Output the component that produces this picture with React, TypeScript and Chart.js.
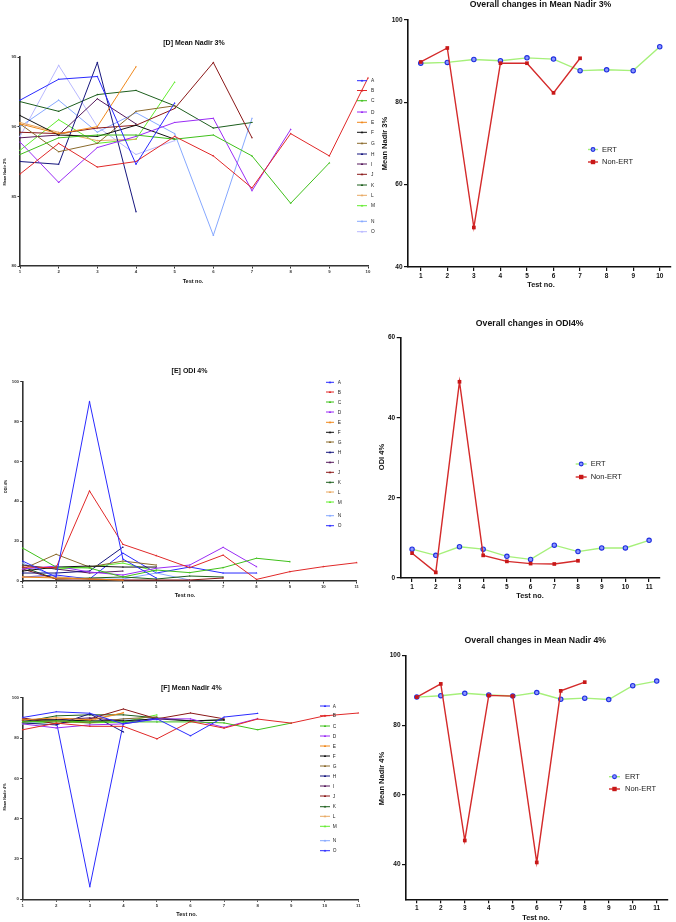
import React, { useEffect, useRef } from 'react';
import { Chart, registerables } from 'chart.js';
Chart.register(...registerables);

const PAGE_W = 676;
const PAGE_H = 922;
const FONT = '"Liberation Sans", Arial, Helvetica, sans-serif';

const patientIds = ['A', 'B', 'C', 'D', 'E', 'F', 'G', 'H', 'I', 'J', 'K', 'L', 'M', 'N', 'O'];
const testNos10 = [1, 2, 3, 4, 5, 6, 7, 8, 9, 10];
const testNos11 = [1, 2, 3, 4, 5, 6, 7, 8, 9, 10, 11];

const nadir3Ticks = [80, 85, 90, 95];
const overallNadir3Ticks = [40, 60, 80, 100];
const odi4Ticks = [0, 20, 40, 60, 80, 100];
const overallOdi4Ticks = [0, 20, 40, 60];
const nadir4Ticks = [0, 20, 40, 60, 80, 100];
const overallNadir4Ticks = [40, 60, 80, 100];

// [D] Mean Nadir 3% per patient
const n3A = [91.9, 93.4, 93.6, 87.3, 91.7];
const n3B = [86.6, 88.8, 87.1, 87.5, 89.3, 87.9, 85.6, 89.5, 87.9, 93.5];
const n3C = [88.0, 89.2, 89.4, 89.4, 89.1, 89.4, 87.9, 84.5, 87.4];
const n3D = [88.9, 86.0, 88.5, 89.3, 90.3, 90.6, 85.4, 89.8];
const n3E = [90.2, 89.5, 90.0, 94.3];
const n3F = [90.8, 89.4, 89.3, 90.1, 89.1];
const n3G = [90.2, 88.2, 88.8, 91.1, 91.5];
const n3H = [87.5, 87.3, 94.6, 83.9];
const n3I = [89.2, 89.4, 92.0, 90.2];
const n3J = [89.6, 89.5, 89.9, 90.1, 91.3, 94.6, 89.2];
const n3K = [91.8, 91.1, 92.3, 92.6, 91.5, 89.9, 90.3];
const n3L = [90.3, 89.6, 89.0, 89.1];
const n3M = [88.3, 90.5, 88.8, 89.1, 93.2];
const n3N = [90.0, 91.9, 89.6, 91.0, 89.5, 82.2, 90.6];
const n3O = [89.3, 94.4, 90.0, 88.0, 89.0];

// [E] ODI 4% per patient
const o4A = [10, 2, 90, 11, 1.5];
const o4B = [7, 6.7, 45.2, 18.4, 12.7, 6.7, 13, 0.8, 4.7, 7.2, 9.2];
const o4C = [16.5, 7, 6.5, 2, 5.5, 4.2, 6.7, 11.4, 9.7];
const o4D = [6, 7.5, 4.5, 3, 6.4, 8, 16.9, 7.2];
const o4E = [2, 1.5, 1, 0.5];
const o4F = [5, 7, 7.5, 7, 7];
const o4G = [6, 13.4, 7, 10, 8];
const o4H = [4, 4, 5, 17];
const o4I = [8, 6, 4, 5];
const o4J = [6, 1, 1, 0.5, 0.5, 0.5, 1.5];
const o4K = [7, 1, 1.5, 2, 1, 2.5, 2];
const o4L = [2, 2, 1, 0.5];
const o4M = [8, 6, 7, 9, 5];
const o4N = [9, 2, 1, 1, 4, 0.5];
const o4O = [2, 3, 1, 14, 4, 7, 4, 4];

// [F] Mean Nadir 4% per patient
const n4A = [90.2, 93.0, 92.3, 87.0, 89.5, 81.1, 90.4, 92.2];
const n4B = [84.1, 87.4, 85.8, 85.8, 79.6, 88.2, 84.9, 89.4, 87.4, 91.0, 92.4];
const n4C = [88.0, 88.5, 88.0, 88.0, 88.0, 88.0, 87.5, 84.1, 87.4];
const n4D = [87.0, 85.0, 86.5, 87.0, 89.5, 89.5, 85.3, 89.6];
const n4E = [89.0, 90.0, 89.0, 92.5];
const n4F = [89.0, 89.0, 88.5, 88.5, 89.5, 88.5, 89.0];
const n4G = [88.0, 88.5, 87.5, 89.5, 90.5];
const n4H = [87.5, 86.5, 92.0, 83.0];
const n4I = [89.0, 89.0, 90.0, 88.5];
const n4J = [90.0, 87.0, 89.5, 94.4, 89.5, 92.4, 89.5];
const n4K = [88.0, 91.0, 91.5, 91.5, 90.0, 88.5, 89.0];
const n4L = [89.5, 88.0, 88.5, 92.5];
const n4M = [87.0, 88.0, 87.5, 88.0, 91.5];
const n4N = [88.0, 87.5, 88.0, 89.5, 89.0];
const n4O = [89.5, 88.5, 6.3, 87.5, 90.0];

// Overall group means
const ertNadir3 = [89.5, 89.7, 90.4, 90.1, 90.8, 90.5, 87.7, 87.9, 87.7, 93.5];
const nonErtNadir3 = [89.8, 93.2, 49.6, 89.5, 89.5, 82.3, 90.7];
const ertOdi4 = [7.2, 5.65, 7.8, 7.2, 5.4, 4.65, 8.2, 6.6, 7.5, 7.5, 9.4];
const nonErtOdi4 = [6.2, 1.4, 49, 5.65, 4.15, 3.6, 3.5, 4.3];
const ertNadir4 = [88.1, 88.5, 89.2, 88.7, 88.4, 89.4, 87.5, 87.8, 87.4, 91.4, 92.7];
const nonErtNadir4 = [88.1, 91.9, 46.9, 88.6, 88.4, 40.6, 89.9, 92.4];

const nadir3Series = [n3A, n3B, n3C, n3D, n3E, n3F, n3G, n3H, n3I, n3J, n3K, n3L, n3M, n3N, n3O];
const odi4Series = [o4A, o4B, o4C, o4D, o4E, o4F, o4G, o4H, o4I, o4J, o4K, o4L, o4M, o4N, o4O];
const nadir4Series = [n4A, n4B, n4C, n4D, n4E, n4F, n4G, n4H, n4I, n4J, n4K, n4L, n4M, n4N, n4O];

const baseColors = ['#2a2aff', '#e02828', '#3fc01a', '#9a2cf5', '#f0881c', '#111111', '#8a6a2c', '#16167e', '#561a5c', '#8a1818', '#1d5e1d', '#e8a862', '#62ec2e', '#86a8ff'];
const colorsD = [...baseColors, '#b8b8ff'];
const colorsEF = [...baseColors, '#2a2aff'];

const ERT_LINE = '#a6f07a';
const ERT_PT_BORDER = '#1f2fe0';
const ERT_PT_FILL = '#8c96ff';
const NON_ERT = '#d42a2a';

const legendYD = [80.7, 90.5, 100.7, 112, 122.3, 132.3, 143.3, 154, 164, 174.3, 185, 195.3, 205.7, 221.3, 231.7];
const legendYE = [382.3, 392, 402, 412, 422.3, 432.3, 442, 452.3, 462.3, 472.3, 482.3, 492, 502, 515.7, 525.7];
const legendYF = [706, 715.7, 726, 736, 746, 756, 766, 776, 786, 796, 806.7, 816.3, 826.3, 840.7, 850.7];

const overlayPlugin = {
  id: 'overlay',
  afterDraw(chart: any, _args: any, opts: any) {
    const ctx = chart.ctx as CanvasRenderingContext2D;
    ctx.save();
    for (const l of opts.legend || []) {
      ctx.strokeStyle = l.color;
      ctx.lineWidth = l.lw;
      ctx.beginPath();
      ctx.moveTo(l.x1, l.y);
      ctx.lineTo(l.x2, l.y);
      ctx.stroke();
      const cx = (l.x1 + l.x2) / 2;
      const r = l.mSize;
      if (l.marker === 'circle') {
        ctx.beginPath();
        ctx.arc(cx, l.y, r, 0, Math.PI * 2);
        ctx.fillStyle = l.mFill;
        ctx.fill();
        ctx.lineWidth = 1.1;
        ctx.strokeStyle = l.mColor;
        ctx.stroke();
      } else if (l.marker === 'rect') {
        ctx.fillStyle = l.mColor;
        ctx.fillRect(cx - r, l.y - r, 2 * r, 2 * r);
      } else if (l.marker === 'tri') {
        ctx.fillStyle = l.mColor;
        ctx.beginPath();
        ctx.moveTo(cx, l.y - r);
        ctx.lineTo(cx + r, l.y + r * 0.7);
        ctx.lineTo(cx - r, l.y + r * 0.7);
        ctx.closePath();
        ctx.fill();
      }
      ctx.fillStyle = l.textColor || '#222';
      ctx.font = `${l.size}px ${FONT}`;
      ctx.textAlign = 'left';
      ctx.textBaseline = 'middle';
      ctx.fillText(l.label, l.tx, l.y + 0.3);
    }
    for (const t of opts.texts || []) {
      ctx.save();
      ctx.fillStyle = t.color || '#111';
      ctx.font = `${t.bold ? 'bold ' : ''}${t.size}px ${FONT}`;
      ctx.textAlign = 'center';
      ctx.textBaseline = 'middle';
      ctx.translate(t.x, t.y);
      if (t.rotate) ctx.rotate(-Math.PI / 2);
      ctx.fillText(t.text, 0, 0);
      ctx.restore();
    }
    ctx.restore();
  },
};

type Area = { l: number; t: number; r: number; b: number };

function axisOpts(kind: 'x' | 'y', min: number, max: number, ticks: number[], size: number, small: boolean, fixed: number) {
  const color = small ? '#333' : '#111';
  return {
    type: 'linear',
    min,
    max,
    afterBuildTicks: (s: any) => {
      s.ticks = ticks.map((v) => ({ value: v }));
    },
    afterFit: (s: any) => {
      if (kind === 'x') s.height = fixed;
      else s.width = fixed;
    },
    ticks: {
      autoSkip: false,
      maxRotation: 0,
      font: { family: FONT, size, weight: 'bold' },
      color,
      padding: small ? 1.2 : 1.5,
      callback: (v: any) => String(v),
    },
    grid: {
      display: true,
      drawOnChartArea: false,
      drawTicks: true,
      tickLength: small ? 2.5 : 4,
      color,
      lineWidth: small ? 1 : 1.2,
    },
    border: { display: true, color, width: small ? 1.6 : 1.6 },
  };
}

function buildConfig(spec: any) {
  const a: Area = spec.area;
  const yw = spec.yw;
  const xh = spec.xh;
  return {
    type: 'line',
    data: { datasets: spec.datasets },
    options: {
      responsive: false,
      animation: false,
      devicePixelRatio: 1,
      events: [],
      layout: {
        padding: { left: a.l - yw, top: a.t, right: PAGE_W - a.r, bottom: PAGE_H - a.b - xh },
      },
      plugins: {
        legend: { display: false },
        tooltip: { enabled: false },
        title: { display: false },
        overlay: { texts: spec.texts, legend: spec.legend },
      },
      scales: {
        x: axisOpts('x', spec.xMin, spec.xMax, spec.xTicks, spec.tickSize, spec.small, xh),
        y: axisOpts('y', spec.yMin, spec.yMax, spec.yTicks, spec.tickSize, spec.small, yw),
      },
    },
    plugins: [overlayPlugin],
  };
}

function toPoints(arr: number[]) {
  return arr.map((y, i) => ({ x: i + 1, y }));
}

function patientDatasets(series: number[][], colors: string[]) {
  return series.map((s, i) => ({
    label: patientIds[i],
    data: toPoints(s),
    borderColor: colors[i],
    backgroundColor: colors[i],
    borderWidth: 1,
    pointRadius: 1.1,
    pointStyle: 'triangle',
    pointBorderWidth: 0,
    pointBackgroundColor: colors[i],
    tension: 0,
    fill: false,
    clip: false,
  }));
}

function patientLegend(colors: string[], ys: number[], x1: number, x2: number, tx: number) {
  return patientIds.map((id, i) => ({
    label: id,
    color: colors[i],
    x1,
    x2,
    tx,
    y: ys[i],
    size: 4.8,
    marker: 'tri',
    mColor: colors[i],
    mSize: 1.3,
    lw: 1,
  }));
}

function groupDatasets(ert: number[], nonErt: number[]) {
  return [
    {
      label: 'ERT',
      data: toPoints(ert),
      borderColor: ERT_LINE,
      backgroundColor: ERT_PT_FILL,
      borderWidth: 1.4,
      pointRadius: 2.2,
      pointStyle: 'circle',
      pointBorderWidth: 1.1,
      pointBorderColor: ERT_PT_BORDER,
      pointBackgroundColor: ERT_PT_FILL,
      tension: 0,
      order: 1,
      clip: false,
    },
    {
      label: 'Non-ERT',
      data: toPoints(nonErt),
      borderColor: NON_ERT,
      backgroundColor: NON_ERT,
      borderWidth: 1.4,
      pointRadius: 2.6,
      pointStyle: 'rect',
      pointBorderWidth: 0,
      pointBackgroundColor: '#c81818',
      tension: 0,
      order: 0,
      clip: false,
    },
  ];
}

function groupLegend(x1: number, x2: number, tx: number, y1: number, y2: number) {
  return [
    { label: 'ERT', color: ERT_LINE, x1, x2, tx, y: y1, size: 7.5, marker: 'circle', mColor: ERT_PT_BORDER, mFill: ERT_PT_FILL, mSize: 1.9, lw: 1.4, textColor: '#222' },
    { label: 'Non-ERT', color: NON_ERT, x1, x2, tx, y: y2, size: 7.5, marker: 'rect', mColor: '#c81818', mSize: 2.2, lw: 1.4, textColor: '#222' },
  ];
}

const specs = [
  // [D] Mean Nadir 3%
  {
    area: { l: 20, t: 57, r: 368, b: 266 },
    yw: 18, xh: 10, small: true, tickSize: 4.3,
    xMin: 1, xMax: 10, xTicks: testNos10,
    yMin: 80, yMax: 95, yTicks: nadir3Ticks,
    datasets: patientDatasets(nadir3Series, colorsD),
    legend: patientLegend(colorsD, legendYD, 357, 367, 371),
    texts: [
      { text: '[D] Mean Nadir 3%', x: 194, y: 43.5, size: 7, bold: true },
      { text: 'Mean Nadir 3%', x: 5, y: 172, size: 3.8, bold: true, rotate: true },
      { text: 'Test no.', x: 193, y: 281, size: 5.5, bold: true },
    ],
  },
  // Overall Mean Nadir 3%
  {
    area: { l: 408, t: 20, r: 673, b: 267 },
    yw: 26, xh: 14, small: false, tickSize: 6.5,
    xMin: 0.52, xMax: 10.42, xTicks: testNos10,
    yMin: 40, yMax: 100, yTicks: overallNadir3Ticks,
    datasets: groupDatasets(ertNadir3, nonErtNadir3),
    legend: groupLegend(588, 598, 602, 149.5, 162),
    texts: [
      { text: 'Overall changes in Mean Nadir 3%', x: 540.5, y: 5, size: 8.7, bold: true },
      { text: 'Mean Nadir 3%', x: 385, y: 143.5, size: 7.5, bold: true, rotate: true },
      { text: 'Test no.', x: 541, y: 285, size: 7.3, bold: true },
    ],
  },
  // [E] ODI 4%
  {
    area: { l: 22.7, t: 381.7, r: 356.7, b: 581 },
    yw: 18, xh: 10, small: true, tickSize: 4.3,
    xMin: 1, xMax: 11, xTicks: testNos11,
    yMin: 0, yMax: 100, yTicks: odi4Ticks,
    datasets: patientDatasets(odi4Series, colorsEF),
    legend: patientLegend(colorsEF, legendYE, 326, 334, 337.7),
    texts: [
      { text: '[E] ODI 4%', x: 189.5, y: 370.7, size: 7, bold: true },
      { text: 'ODI 4%', x: 5.7, y: 486.5, size: 3.8, bold: true, rotate: true },
      { text: 'Test no.', x: 185, y: 595.7, size: 5.5, bold: true },
    ],
  },
  // Overall ODI4%
  {
    area: { l: 400.7, t: 337.7, r: 660, b: 578 },
    yw: 26, xh: 14, small: false, tickSize: 6.5,
    xMin: 0.52, xMax: 11.46, xTicks: testNos11,
    yMin: 0, yMax: 60, yTicks: overallOdi4Ticks,
    datasets: groupDatasets(ertOdi4, nonErtOdi4),
    legend: groupLegend(575.7, 586.7, 590.7, 464, 477),
    texts: [
      { text: 'Overall changes in ODI4%', x: 529.7, y: 323.3, size: 8.7, bold: true },
      { text: 'ODI 4%', x: 382, y: 457, size: 7.5, bold: true, rotate: true },
      { text: 'Test no.', x: 530, y: 596, size: 7.3, bold: true },
    ],
  },
  // [F] Mean Nadir 4%
  {
    area: { l: 22.7, t: 697.7, r: 358.3, b: 899.3 },
    yw: 18, xh: 10, small: true, tickSize: 4.3,
    xMin: 1, xMax: 11, xTicks: testNos11,
    yMin: 0, yMax: 100, yTicks: nadir4Ticks,
    datasets: patientDatasets(nadir4Series, colorsEF),
    legend: patientLegend(colorsEF, legendYF, 320, 330, 332.7),
    texts: [
      { text: '[F] Mean Nadir 4%', x: 191.3, y: 687.7, size: 7, bold: true },
      { text: 'Mean Nadir 4%', x: 5, y: 797, size: 3.8, bold: true, rotate: true },
      { text: 'Test no.', x: 186.7, y: 914.7, size: 5.5, bold: true },
    ],
  },
  // Overall Mean Nadir 4%
  {
    area: { l: 406, t: 655.7, r: 668, b: 899.3 },
    yw: 26, xh: 14, small: false, tickSize: 6.5,
    xMin: 0.55, xMax: 11.47, xTicks: testNos11,
    yMin: 30, yMax: 100, yTicks: overallNadir4Ticks,
    datasets: groupDatasets(ertNadir4, nonErtNadir4),
    legend: groupLegend(609, 620, 625, 776.7, 789),
    texts: [
      { text: 'Overall changes in Mean Nadir 4%', x: 535.3, y: 641, size: 8.7, bold: true },
      { text: 'Mean Nadir 4%', x: 382, y: 778.5, size: 7.5, bold: true, rotate: true },
      { text: 'Test no.', x: 536, y: 917.5, size: 7.3, bold: true },
    ],
  },
];

export default function App() {
  const refs = useRef<(HTMLCanvasElement | null)[]>([]);
  useEffect(() => {
    const charts: Chart[] = [];
    specs.forEach((spec, i) => {
      const c = refs.current[i];
      if (!c) return;
      charts.push(new Chart(c, buildConfig(spec) as any));
    });
    return () => {
      charts.forEach((ch) => ch.destroy());
    };
  }, []);
  return (
    <div style={{ position: 'absolute', left: 0, top: 0, width: PAGE_W, height: PAGE_H, background: '#fff' }}>
      {specs.map((_, i) => (
        <canvas
          key={i}
          ref={(el) => {
            refs.current[i] = el;
          }}
          width={PAGE_W}
          height={PAGE_H}
          style={{ position: 'absolute', left: 0, top: 0, width: PAGE_W, height: PAGE_H }}
        />
      ))}
    </div>
  );
}
